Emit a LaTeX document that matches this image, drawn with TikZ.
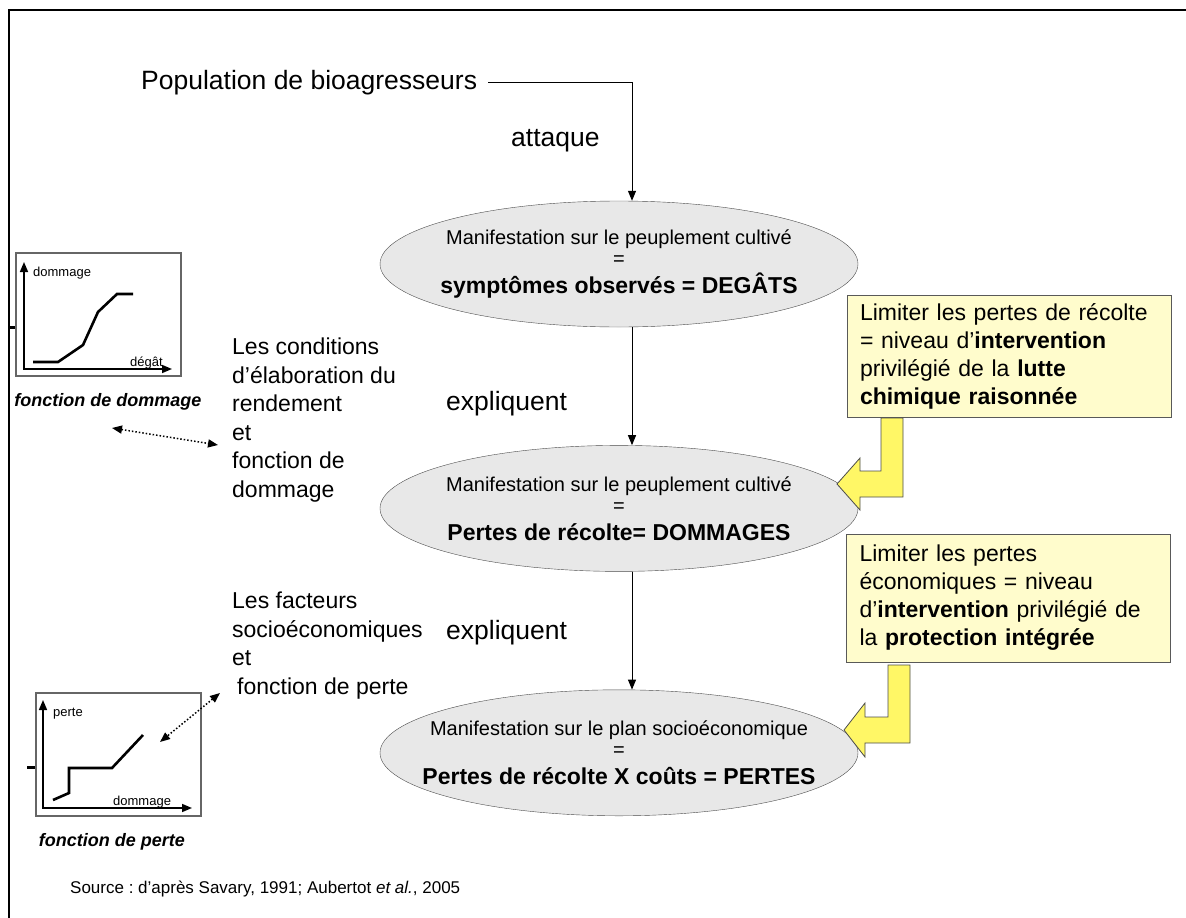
\documentclass[tikz,border=0pt]{standalone}
\usepackage{fontspec}
\setmainfont{Liberation Sans}
\frenchspacing
\usetikzlibrary{shapes.geometric,arrows.meta,positioning}
\begin{document}
\begin{tikzpicture}[x=1pt, y=-1pt, node distance=118pt,
  etat/.style = {draw=black!70, fill=black!9, ellipse, minimum width=478pt, minimum height=126pt, inner sep=0pt},
  etattxt/.style = {inner sep=0pt, align=center, font=\fontsize{20}{21}\selectfont},
  gros/.style = {inner sep=0pt, anchor=base west, font=\fontsize{26.5}{30}\selectfont},
  txt/.style = {inner sep=0pt, anchor=base west, align=left, font=\fontsize{23}{28.5}\selectfont},
  conseil/.style = {draw=black!65, fill=yellow!20, minimum width=324pt, minimum height=122pt, text width=298pt, align=left, inner sep=0pt, font=\fontsize{23}{28}\selectfont},
  jaune/.style = {draw=black!70, fill=yellow!60, line width=0.8pt},
  fleche/.style = {-{Triangle[length=10pt,width=8pt]}, line width=1pt},
  pointille/.style = {{Triangle[length=10pt,width=8pt]}-{Triangle[length=10pt,width=8pt]}, dotted, line width=1.5pt},
  cadre/.style = {draw=black!60, line width=1.2pt},
  axe/.style = {{Triangle[length=10pt,width=8pt]}-{Triangle[length=10pt,width=8pt]}, line width=1.6pt},
  courbe/.style = {line width=2.6pt},
  petit/.style = {inner sep=0pt, anchor=base west, font=\fontsize{13}{15}\selectfont},
  titre/.style = {inner sep=0pt, font=\fontsize{18}{20}\selectfont\bfseries\itshape}]
\useasboundingbox (0,0) rectangle (1186,918);
\draw[line width=2pt] (9,918) -- (9,10) -- (1186,10);
\node[etat] (degats) at (619,264) {};
\node[etat] (dommages) [below=of degats] {};
\node[etat] (pertes) [below=of dommages] {};
\node[etattxt] (degatstxt) at (degats) {Manifestation sur le peuplement cultivé\\=\\[7pt]{\fontsize{23}{28}\selectfont\bfseries symptômes observés = DEGÂTS}};
\node[etattxt] (dommagestxt) at (dommages) {Manifestation sur le peuplement cultivé\\=\\[7pt]{\fontsize{23}{28}\selectfont\bfseries Pertes de récolte= DOMMAGES}};
\node[etattxt] (pertestxt) at (pertes) {Manifestation sur le plan socioéconomique\\=\\[7pt]{\fontsize{23}{28}\selectfont\bfseries Pertes de récolte X coûts = PERTES}};
\node[gros] (pop) at (141,89) {Population de bioagresseurs};
\node[gros] (attaque) at (511,146) {attaque};
\node[gros] (expl1) at (446,410) {expliquent};
\node[gros] (expl2) at (446,639) {expliquent};
\node[txt] (cond) at (232,497) {Les conditions\\d’élaboration du\\rendement\\et\\fonction de\\dommage};
\node[txt] (fact) at (232,694) {Les facteurs\\socioéconomiques\\et\\\hspace*{5pt}fonction de perte};
\node[conseil] (lim1) at (1009,356) {Limiter les pertes de récolte\\= niveau d’\textbf{intervention}\\privilégié de la \textbf{lutte}\\\textbf{chimique raisonnée}};
\node[conseil, minimum height=128pt] (lim2) at (1008.5,598) {Limiter les pertes\\économiques = niveau\\d’\textbf{intervention} privilégié de\\la \textbf{protection intégrée}};
\draw[fleche] ([xshift=11pt]pop.east) -| ([xshift=13pt]degats.north);
\draw[fleche] ([xshift=13pt]degats.south) -- ([xshift=13pt]dommages.north);
\draw[fleche] ([xshift=13pt]dommages.south) -- ([xshift=13pt]pertes.north);
\draw[jaune] (881,418) -- (903,418) -- (903,497) -- (860,497) -- (860,510) -- (837,484) -- (860,458) -- (860,471) -- (881,471) -- cycle;
\draw[jaune] (888,665) -- (910,665) -- (910,743) -- (865,743) -- (865,757) -- (844,730) -- (865,703) -- (865,717) -- (888,717) -- cycle;
% fonction de dommage
\draw[line width=3pt] (9,327) -- (16,327);
\draw[cadre] (16,253) rectangle (181,376);
\draw[axe] (24,262) -- (24,369) -- (172,369);
\draw[courbe] (33,362) -- (58,362) -- (83,345) -- (98,312) -- (117,294) -- (133,294);
\node[petit] (ydom) at (33,276) {dommage};
\node[petit] (xdeg) at (130,366) {dégât};
\node[titre] (fdom) at (108,402) {fonction de dommage};
% fonction de perte
\draw[line width=3pt] (27,767) -- (36,767);
\draw[cadre] (36,693) rectangle (201,816);
\draw[axe] (43,700) -- (43,808) -- (192,808);
\draw[courbe] (53,800) -- (69,793) -- (69,768) -- (112,768) -- (143,735);
\node[petit] (yper) at (53,716) {perte};
\node[petit] (xdom) at (113,805) {dommage};
\node[titre] (fper) at (112,842) {fonction de perte};
\coordinate (d1) at (112,428);
\coordinate (d2) at (218,445);
\coordinate (p1) at (220,693);
\coordinate (p2) at (160,742);
\draw[pointille] (d1) -- (d2);
\draw[pointille] (p1) -- (p2);
\node[inner sep=0pt, anchor=base west, font=\fontsize{17}{20}\selectfont] (source) at (70,893) {Source : d’après Savary, 1991; Aubertot \textit{et al.}, 2005};
\end{tikzpicture}
\end{document}
